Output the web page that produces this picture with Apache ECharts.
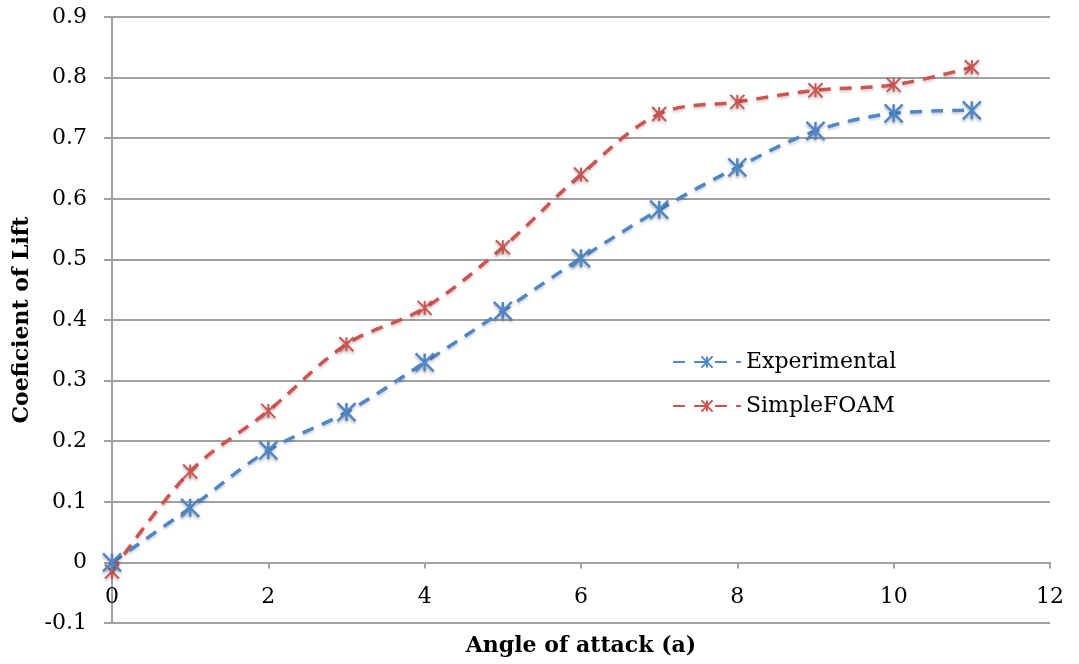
<!DOCTYPE html>
<html>
<head>
<meta charset="utf-8">
<title>Coefficient of Lift</title>
<script src="https://cdn.jsdelivr.net/npm/echarts@6/dist/echarts.min.js"></script>
<style>
	html, body { margin: 0; padding: 0; background: #fff; }
	#chart { width: 1079px; height: 664px; }
</style>
</head>
<body>
<div id="chart"></div>
<script type="text/javascript">
	// angle of attack
	var angles = [0, 1, 2, 3, 4, 5, 6, 7, 8, 9, 10, 11];
	var experimental = [0, 0.09, 0.185, 0.248, 0.33, 0.415, 0.502, 0.582, 0.652, 0.712, 0.741, 0.746];
	var simpleFoam = [-0.015, 0.15, 0.25, 0.36, 0.42, 0.52, 0.64, 0.74, 0.76, 0.779, 0.788, 0.817];

	var blue = '#4F86C6', red = '#CF5450';
	// asterisk marker (X plus vertical stroke)
	var star = 'path://M0,-1L0,1M-1,-1L1,1M-1,1L1,-1';

	function pairs(ys) {
		var out = [];
		for (var i = 0; i < angles.length; i++) {
			out.push([angles[i], ys[i]]);
		}
		return out;
	}

	var myChart = echarts.init(document.getElementById('chart'));
	var font = '"DejaVu Serif", "Liberation Serif", serif';

	var option = {
		animation: false,
		textStyle: { fontFamily: font },
		grid: { left: 112, right: 29, top: 17, bottom: 41, containLabel: false, outerBoundsMode: 'none' },
		legend: {
			orient: 'vertical',
			left: 667,
			top: 346,
			itemWidth: 68,
			itemHeight: 14,
			itemGap: 22,
			textStyle: { fontFamily: font, fontSize: 22, color: '#000' },
			data: ['Experimental', 'SimpleFOAM']
		},
		xAxis: {
			type: 'value',
			min: 0,
			max: 12,
			interval: 2,
			name: 'Angle of attack (a)',
			nameLocation: 'middle',
			nameGap: 12,
			nameTextStyle: { fontFamily: font, fontSize: 22, fontWeight: 'bold', color: '#000' },
			axisLine: { onZero: true, lineStyle: { color: '#a0a0a0', width: 2 } },
			axisTick: { show: true, length: 6, lineStyle: { color: '#a0a0a0', width: 2 } },
			axisLabel: { fontFamily: font, fontSize: 22, color: '#000', margin: -37 },
			splitLine: { show: false }
		},
		yAxis: {
			type: 'value',
			min: -0.1,
			max: 0.9,
			interval: 0.1,
			name: 'Coeficient of Lift',
			nameLocation: 'middle',
			nameGap: 78,
			nameTextStyle: { fontFamily: font, fontSize: 22, fontWeight: 'bold', color: '#000' },
			axisLine: { show: true, onZero: false, lineStyle: { color: '#a0a0a0', width: 2 } },
			axisTick: { show: true, length: 8, lineStyle: { color: '#a0a0a0', width: 2 } },
			axisLabel: {
				fontFamily: font, fontSize: 22, color: '#000', margin: 25,
				formatter: function(v) { return String(Math.round(v * 10) / 10); }
			},
			splitLine: { show: true, lineStyle: { color: '#a0a0a0', width: 2 } }
		},
		series: [{
			name: 'Experimental',
			type: 'line',
			data: pairs(experimental),
			smooth: 0.35,
			symbol: star,
			symbolSize: 18,
			itemStyle: {
				color: blue, borderColor: blue, borderWidth: 2.5,
				shadowColor: 'rgba(0,0,0,0.3)', shadowBlur: 3, shadowOffsetY: 2
			},
			lineStyle: {
				color: blue, width: 3.5, type: [12, 9],
				shadowColor: 'rgba(0,0,0,0.2)', shadowBlur: 3, shadowOffsetY: 2
			},
			z: 3
		}, {
			name: 'SimpleFOAM',
			type: 'line',
			data: pairs(simpleFoam),
			smooth: 0.35,
			symbol: star,
			symbolSize: 14,
			itemStyle: {
				color: red, borderColor: red, borderWidth: 2,
				shadowColor: 'rgba(0,0,0,0.3)', shadowBlur: 3, shadowOffsetY: 2
			},
			lineStyle: {
				color: red, width: 3.5, type: [12, 9],
				shadowColor: 'rgba(0,0,0,0.2)', shadowBlur: 3, shadowOffsetY: 2
			},
			z: 2
		}]
	};
	myChart.setOption(option);
</script>
</body>
</html>
